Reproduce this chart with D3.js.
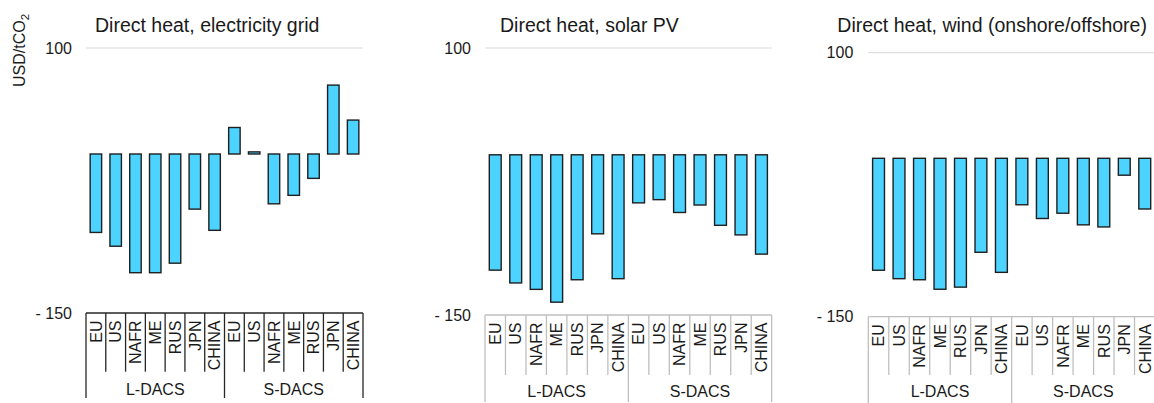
<!DOCTYPE html>
<html>
<head>
<meta charset="utf-8">
<script src="https://cdn.jsdelivr.net/npm/d3@7"></script>
<style>
  html, body { margin: 0; padding: 0; background: #fff; }
  svg { display: block; font-family: "Liberation Sans", Arial, sans-serif; }
</style>
</head>
<body>
<svg id="chart" width="1154" height="403"></svg>
<script>
// Regions and plant types along the x axis
const regions = ["EU", "US", "NAFR", "ME", "RUS", "JPN", "CHINA"];
const plantTypes = ["L-DACS", "S-DACS"];

// Panel titles
const titles = [
  "Direct heat, electricity grid",
  "Direct heat, solar PV",
  "Direct heat, wind (onshore/offshore)"
];

// Values in USD/tCO2, ordered L-DACS regions then S-DACS regions
const gridValues  = [-74, -87, -112, -112, -103, -52, -72,   25, 2, -47, -39, -23, 65, 32];
const solarValues = [-108, -120, -126, -138, -117, -74, -116,  -45, -42, -54, -47, -66, -75, -93];
const windValues  = [-106, -114, -115, -124, -122, -89, -108,  -44, -57, -52, -63, -65, -16, -48];

// Axis tick labels
const tickValues = [100, -150];
const tickLabels = ["100", "- 150"];
const yLabel = "USD/tCO";

const seriesList = [gridValues, solarValues, windValues];

// Pixel layout of each panel
const layout = [
  { left: 86,  right: 363,  top: 48,   bottom: 313,   tickX: 72,  titleX: 95,  titleY: 31.7,
    minorBottom: 371.7, majorBottom: 398,   groupY: 389.3, boxColor: "#262626" },
  { left: 485, right: 771.7, top: 48,  bottom: 315,   tickX: 471, titleX: 500, titleY: 31.7,
    minorBottom: 375,   majorBottom: 402,   groupY: 391.7, boxColor: "#bfbfbf" },
  { left: 868.3, right: 1155, top: 52.7, bottom: 316.7, tickX: 853.3, titleX: 837.3, titleY: 32.3,
    minorBottom: 375,   majorBottom: 403,   groupY: 391.7, boxColor: "#bfbfbf" }
];

const svg = d3.select("#chart");
const keys = plantTypes.flatMap(p => regions.map(r => p + "|" + r));

// Y axis title (shared, leftmost)
const yl = svg.append("text")
  .attr("transform", "translate(24.5,87) rotate(-90)")
  .attr("font-size", 16)
  .attr("fill", "#1a1a1a");
yl.append("tspan").text(yLabel);
yl.append("tspan").attr("font-size", 11.5).attr("dy", 4).text("2");

seriesList.forEach((values, i) => {
  const L = layout[i];
  const g = svg.append("g");

  const x = d3.scaleBand().domain(keys).range([L.left, L.right]).paddingInner(0.42).paddingOuter(0.21);
  const xCat = d3.scaleBand().domain(keys).range([L.left, L.right]);
  const y = d3.scaleLinear().domain([-150, 100]).range([L.bottom, L.top]);

  // Title
  g.append("text")
    .attr("x", L.titleX).attr("y", L.titleY)
    .attr("font-size", 19.5).attr("fill", "#1a1a1a")
    .text(titles[i]);

  // Gridline at the top tick
  g.append("line")
    .attr("x1", L.left).attr("x2", L.right)
    .attr("y1", y(100)).attr("y2", y(100))
    .attr("stroke", "#d9d9d9").attr("stroke-width", 1);

  // Tick labels
  g.selectAll("text.tick").data(tickValues).join("text")
    .attr("class", "tick")
    .attr("x", L.tickX).attr("y", d => y(d))
    .attr("dy", "0.35em")
    .attr("text-anchor", "end")
    .attr("font-size", 16).attr("fill", "#1a1a1a")
    .text((d, k) => tickLabels[k]);

  // Bars
  g.selectAll("rect.bar").data(values).join("rect")
    .attr("class", "bar")
    .attr("x", (d, k) => x(keys[k]))
    .attr("width", x.bandwidth())
    .attr("y", d => y(Math.max(0, d)))
    .attr("height", d => Math.abs(y(d) - y(0)))
    .attr("fill", "#4cd3ff")
    .attr("stroke", "#1f1f1f")
    .attr("stroke-width", 1.4);

  // Category box: top line, separators, group dividers
  const box = g.append("g").attr("stroke", L.boxColor).attr("stroke-width", 1.3);
  box.append("line")
    .attr("x1", L.left).attr("x2", L.right)
    .attr("y1", L.bottom).attr("y2", L.bottom);
  keys.forEach((k, j) => {
    if (j === 0 || j === regions.length) return;
    const xx = xCat(k);
    box.append("line")
      .attr("x1", xx).attr("x2", xx)
      .attr("y1", L.bottom).attr("y2", L.minorBottom);
  });
  [0, regions.length, keys.length].forEach(j => {
    const xx = j === keys.length ? L.right : xCat(keys[j]);
    box.append("line")
      .attr("x1", xx).attr("x2", xx)
      .attr("y1", L.bottom).attr("y2", L.majorBottom);
  });

  // Region labels (rotated)
  g.selectAll("text.cat").data(keys).join("text")
    .attr("class", "cat")
    .attr("transform", k => `translate(${xCat(k) + xCat.bandwidth() / 2},${L.bottom + 7.5}) rotate(-90)`)
    .attr("dy", "0.36em")
    .attr("text-anchor", "end")
    .attr("font-size", 16).attr("fill", "#1a1a1a")
    .text(k => k.split("|")[1]);

  // Plant type labels
  g.selectAll("text.grp").data(plantTypes).join("text")
    .attr("class", "grp")
    .attr("x", (p, j) => {
      const a = xCat(keys[j * regions.length]);
      const b = j === plantTypes.length - 1 ? L.right : xCat(keys[(j + 1) * regions.length]);
      return (a + b) / 2;
    })
    .attr("y", L.groupY)
    .attr("dy", "0.35em")
    .attr("text-anchor", "middle")
    .attr("font-size", 16).attr("fill", "#1a1a1a")
    .text(p => p);
});
</script>
</body>
</html>
